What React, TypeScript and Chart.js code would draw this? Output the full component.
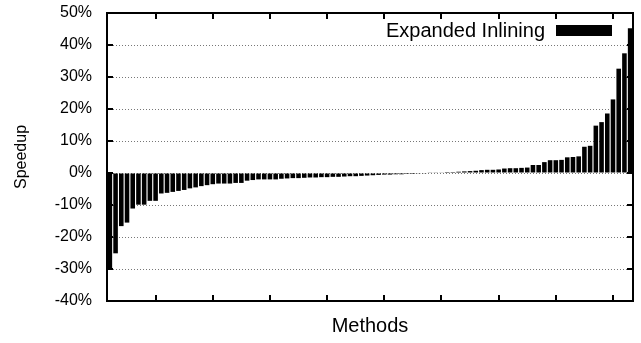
import { useEffect, useRef } from 'react';
import { Chart, registerables } from 'chart.js';

Chart.register(...registerables);

// Speedup per method (%), sorted ascending
const speedup: number[] = [
  -30.0, -25.1, -16.6, -15.5, -11.1, -9.9, -9.9, -8.7, -8.7, -6.4,
  -6.2, -5.9, -5.6, -5.3, -4.8, -4.5, -4.1, -3.8, -3.5, -3.3,
  -3.3, -3.3, -3.1, -3.1, -2.4, -2.2, -2.0, -2.0, -2.0, -2.0,
  -1.8,
  -1.7, -1.6, -1.6, -1.5, -1.4, -1.4, -1.3, -1.3, -1.2, -1.2, -1.1, -1.0, -1.0, -0.9, -0.8, -0.7,
  -0.6, -0.5, -0.5, -0.4, -0.4, -0.3, -0.3, -0.1, -0.1, 0.1, 0.1, 0.2, 0.3, 0.3, 0.4, 0.5, 0.6, 0.7,
  0.9, 1.0, 1.0, 1.1, 1.4, 1.5, 1.5, 1.6, 1.7,
  2.5, 2.5, 3.4, 4.0, 4.0, 4.1, 4.9, 5.0, 5.2, 8.2, 8.5, 14.8, 15.9, 18.6, 23.0, 32.6, 37.4, 45.2,
];

// Method numbers (categories)
const methods: string[] = speedup.map((_, i) => String(i + 2));

// Unlabelled x tick marks at these methods
const xTickMethods: string[] = ['10', '20', '30', '40', '50', '60', '70', '80', '90'];

// y tick values (percent)
const yTicks: number[] = [-40, -30, -20, -10, 0, 10, 20, 30, 40, 50];

const seriesName = 'Expanded Inlining';
const xTitle = 'Methods';
const yTitle = 'Speedup';

const FONT = "'Liberation Sans', Arial, Helvetica, sans-serif";

const framePlugin = {
  id: 'gnuplotFrame',
  afterDatasetsDraw(chart: any) {
    const { ctx, chartArea } = chart;
    const { left, right, top, bottom } = chartArea;
    const xs = chart.scales.x;
    const ys = chart.scales.y;
    ctx.save();
    ctx.strokeStyle = '#000';
    ctx.lineWidth = 2;
    ctx.beginPath();
    const tl = 6;
    yTicks.forEach((v) => {
      const y = Math.round(ys.getPixelForValue(v));
      ctx.moveTo(left, y);
      ctx.lineTo(left + tl, y);
      ctx.moveTo(right, y);
      ctx.lineTo(right - tl, y);
    });
    xTickMethods.forEach((m) => {
      const idx = methods.indexOf(m);
      if (idx < 0) return;
      const x = Math.round(xs.getPixelForValue(idx));
      ctx.moveTo(x, bottom);
      ctx.lineTo(x, bottom - tl);
      ctx.moveTo(x, top);
      ctx.lineTo(x, top + tl);
    });
    ctx.stroke();
    ctx.lineWidth = 2;
    ctx.strokeRect(left, top, right - left, bottom - top);

    // legend
    ctx.fillStyle = '#000';
    ctx.font = `20px ${FONT}`;
    ctx.textAlign = 'right';
    ctx.textBaseline = 'middle';
    ctx.fillText(chart.data.datasets[0].label, 545, 31);
    ctx.fillRect(556, 25, 56, 11);
    ctx.restore();
  },
};

export default function App() {
  const ref = useRef<HTMLCanvasElement | null>(null);
  useEffect(() => {
    if (!ref.current) return;
    const chart = new Chart(ref.current, {
      type: 'bar',
      data: {
        labels: methods,
        datasets: [
          {
            label: seriesName,
            data: speedup,
            backgroundColor: '#000',
            borderWidth: 0,
            barPercentage: 0.8,
            categoryPercentage: 1,
          },
        ],
      },
      options: {
        animation: false,
        responsive: false,
        maintainAspectRatio: false,
        layout: { padding: { top: 13, right: 8, bottom: 0, left: 0 } },
        plugins: { legend: { display: false }, tooltip: { enabled: false } },
        scales: {
          x: {
            type: 'category',
            offset: true,
            ticks: { display: false },
            grid: { display: false, drawTicks: false },
            border: { display: false },
            title: {
              display: true,
              text: xTitle,
              color: '#000',
              font: { family: FONT, size: 20 },
              padding: { top: 0, bottom: 5 },
            },
            afterFit: (s: any) => {
              s.height = 42;
              s.paddingLeft = 0;
              s.paddingRight = 0;
            },
          },
          y: {
            type: 'linear',
            min: -40,
            max: 50,
            afterBuildTicks: (s: any) => {
              s.ticks = yTicks.map((v) => ({ value: v }));
            },
            ticks: {
              color: '#000',
              font: { family: FONT, size: 16 },
              padding: 15,
              callback: (v: any) => `${v}%`,
            },
            grid: {
              drawTicks: false,
              lineWidth: 1,
              color: (c: any) =>
                c.tick && (c.tick.value === -40 || c.tick.value === 50) ? 'rgba(0,0,0,0)' : '#777',
            },
            border: { display: false, dash: [1, 2] },
            title: {
              display: true,
              text: yTitle,
              color: '#000',
              font: { family: FONT, size: 16 },
              padding: { top: 12, bottom: 0 },
            },
            afterFit: (s: any) => {
              s.width = 107;
              s.paddingTop = 0;
              s.paddingBottom = 0;
            },
          },
        },
      },
      plugins: [framePlugin],
    });
    return () => chart.destroy();
  }, []);
  return (
    <div style={{ position: 'fixed', left: 0, top: 0, width: 641, height: 343, background: '#fff' }}>
      <canvas ref={ref} width={641} height={343} style={{ width: 641, height: 343, display: 'block' }} />
    </div>
  );
}
